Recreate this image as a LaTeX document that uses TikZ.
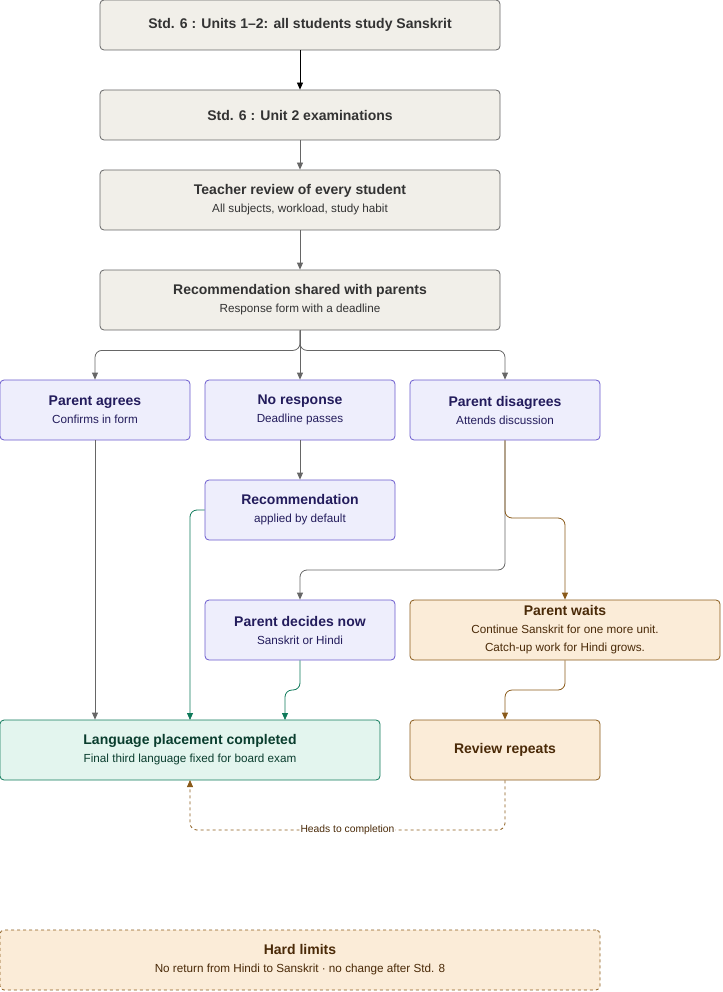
\documentclass[tikz,border=0pt]{standalone}
\usepackage{fontspec}
\setmainfont{Liberation Sans}
\usetikzlibrary{positioning,arrows.meta}
\definecolor{grayfill}{HTML}{F1EFE9}
\definecolor{grayline}{HTML}{666666}
\definecolor{purfill}{HTML}{EEEEFC}
\definecolor{purline}{HTML}{6A5ACD}
\definecolor{purtext}{HTML}{231C5C}
\definecolor{grnfill}{HTML}{E3F5EE}
\definecolor{grnline}{HTML}{0F7A5A}
\definecolor{grntext}{HTML}{0A3D2E}
\definecolor{orgfill}{HTML}{FBECD8}
\definecolor{orgline}{HTML}{8A5A1A}
\definecolor{orgtext}{HTML}{4A2A08}
\tikzset{
  box/.style={draw, line width=0.8pt, rounded corners=4pt, align=center, inner sep=2pt, font=\fontsize{14}{18}\selectfont},
  graybox/.style={box, fill=grayfill, draw=grayline, text=black!80},
  purbox/.style={box, fill=purfill, draw=purline, text=purtext},
  grnbox/.style={box, fill=grnfill, draw=grnline, text=grntext},
  orgbox/.style={box, fill=orgfill, draw=orgline, text=orgtext},
  link/.style={-{Triangle[length=7pt,width=6pt]}, line width=0.8pt, grayline, rounded corners=7pt},
  glink/.style={link, grnline},
  olink/.style={link, orgline},
}
\newcommand{\twoline}[2]{\textbf{#1}\\{\fontsize{11.7}{18}\selectfont #2}}
\begin{document}
\begin{tikzpicture}[x=1pt,y=-1pt]
\useasboundingbox (0,0) rectangle (722,992);
% top column
\node[graybox, minimum width=400pt, minimum height=50pt] (units) at (300,25) {\textbf{Std. 6 : Units 1--2: all students study Sanskrit}};
\node[graybox, minimum width=400pt, minimum height=50pt] (exams) at (300,115) {\textbf{Std. 6 : Unit 2 examinations}};
\node[graybox, minimum width=400pt, minimum height=60pt] (review) at (300,200) {\twoline{Teacher review of every student}{All subjects, workload, study habit}};
\node[graybox, minimum width=400pt, minimum height=60pt] (shared) at (300,300) {\twoline{Recommendation shared with parents}{Response form with a deadline}};
% parent responses
\node[purbox, minimum width=190pt, minimum height=60pt] (agree) at (95,410) {\twoline{Parent agrees}{Confirms in form}};
\node[purbox, minimum width=190pt, minimum height=60pt] (noresp) at (300,410) {\twoline{No response}{Deadline passes}};
\node[purbox, minimum width=190pt, minimum height=60pt] (disagree) at (505,410) {\twoline{Parent disagrees}{Attends discussion}};
\node[purbox, minimum width=190pt, minimum height=60pt] (default) at (300,510) {\twoline{Recommendation}{applied by default}};
\node[purbox, minimum width=190pt, minimum height=60pt] (decides) at (300,630) {\twoline{Parent decides now}{Sanskrit or Hindi}};
\node[orgbox, minimum width=310pt, minimum height=60pt] (waits) at (565,630) {\textbf{Parent waits}\\{\fontsize{11.7}{17}\selectfont Continue Sanskrit for one more unit.}\\{\fontsize{11.7}{17}\selectfont Catch-up work for Hindi grows.}};
% outcomes
\node[grnbox, minimum width=380pt, minimum height=60pt] (done) at (190,750) {\twoline{Language placement completed}{Final third language fixed for board exam}};
\node[orgbox, minimum width=190pt, minimum height=60pt] (repeat) at (505,750) {\textbf{Review repeats}};
\node[orgbox, dashed, minimum width=600pt, minimum height=60pt] (limits) at (300,960) {\twoline{Hard limits}{No return from Hindi to Sanskrit · no change after Std. 8}};
% connectors
\draw[link, black] (units) -- (exams);
\draw[link] (exams) -- (review);
\draw[link] (review) -- (shared);
\draw[link] (shared.south) -- ++(0,20) -| (agree.north);
\draw[link] (shared.south) -- (noresp.north);
\draw[link] (shared.south) -- ++(0,20) -| (disagree.north);
\draw[link] (agree.south) -- (agree.south |- done.north);
\draw[link] (noresp) -- (default);
\draw[glink] (default.west) -| (190,720);
\draw[link] (disagree.south) -- (505,570) -| (decides.north);
\draw[olink] (disagree.south) -- (505,518) -| (waits.north);
\draw[glink] (decides.south) -- (300,690) -| (285,720);
\draw[olink] (waits.south) -- (565,690) -| (repeat.north);
\draw[olink, dashed] (repeat.south) -- (505,830) -- node[fill=white, inner sep=1pt, text=orgtext, font=\fontsize{10.3}{12}\selectfont] {Heads to completion} (190,830) -- (190,780);
\end{tikzpicture}
\end{document}
